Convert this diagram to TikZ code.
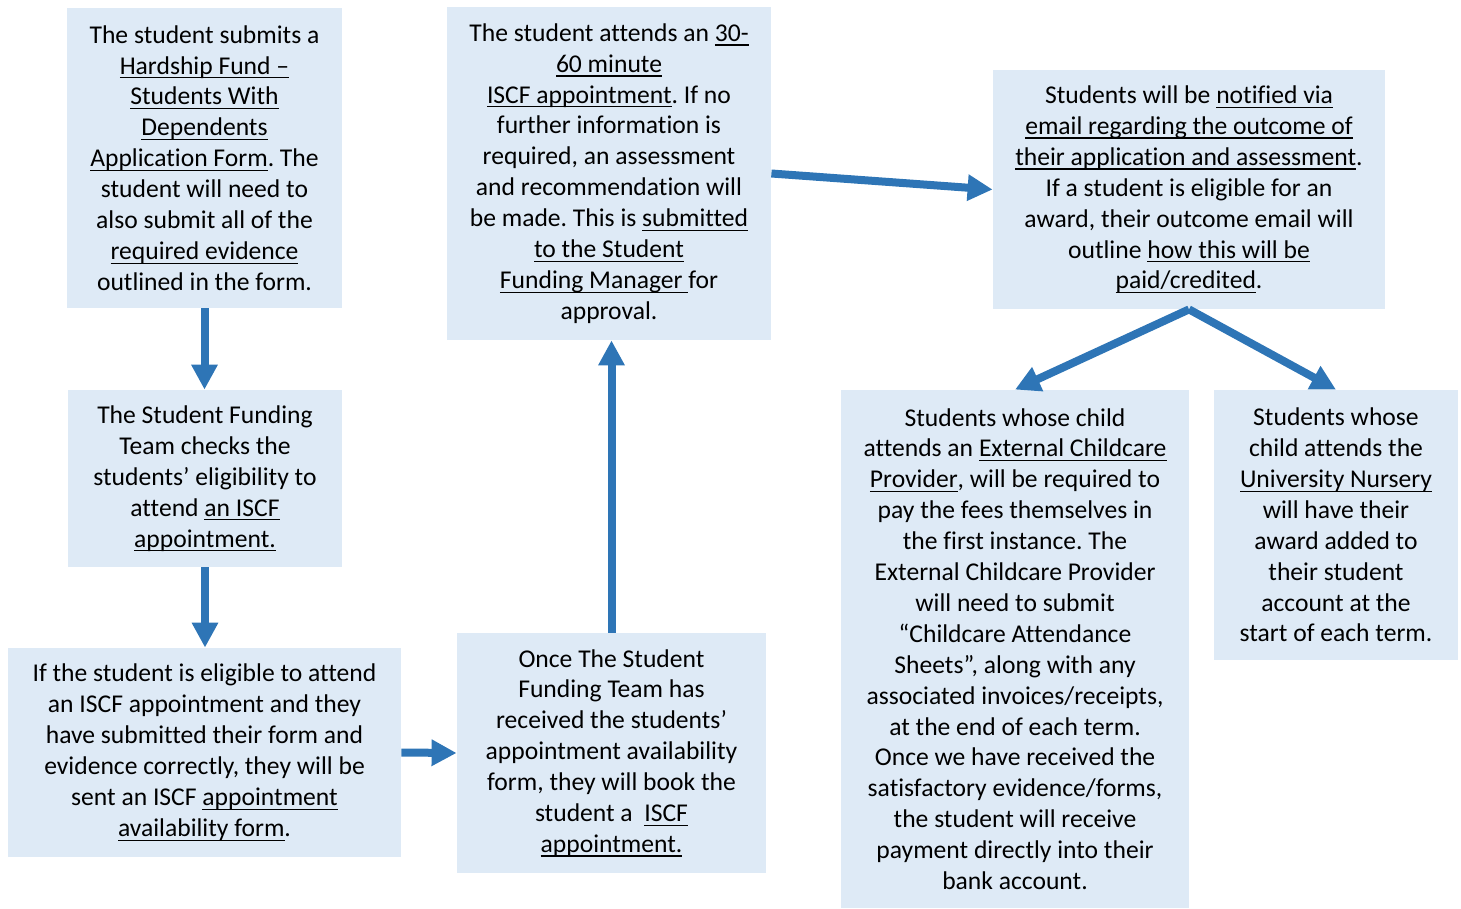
\documentclass[tikz,border=0pt]{standalone}
\usepackage{fontspec}
\setmainfont{Carlito}[Ligatures=NoCommon]
\usetikzlibrary{arrows.meta}
\definecolor{boxblue}{HTML}{DEEAF6}
\definecolor{arrowblue}{HTML}{2E75B6}
\newcommand{\uln}[1]{\setbox0\hbox{#1}\rlap{\rule[-0.17em]{\wd0}{0.05em}}\box0}
\frenchspacing

\begin{document}
\begin{tikzpicture}[x=0.5pt,y=-0.5pt,
  box/.style={fill=boxblue,inner sep=0pt,align=center,font=\fontsize{12.8}{15.45}\selectfont},
  flow/.style={draw=arrowblue,line width=4pt,-{Triangle[width=12.5pt,length=12.5pt]}}]
\useasboundingbox (0,0) rectangle (1461,909);

\node [box,minimum width=137.5pt,minimum height=150pt] (submit) at (204.5,158) {The student submits a\\
\uln{Hardship Fund –}\\
\uln{Students With}\\
\uln{Dependents}\\
\uln{Application Form}. The\\
student will need to\\
also submit all of the\\
\uln{required evidence}\\
outlined in the form.};

\node [box,minimum width=137pt,minimum height=88.5pt] (check) at (205,478.5) {The Student Funding\\
Team checks the\\
students’ eligibility to\\
attend \uln{an ISCF}\\
\uln{appointment.}};

\node [box,minimum width=196.5pt,minimum height=104.5pt] (eligible) at (204.5,752.5) {If the student is eligible to attend\\
an ISCF appointment and they\\
have submitted their form and\\
evidence correctly, they will be\\
sent an ISCF \uln{appointment}\\
\uln{availability form}.};

\node [box,minimum width=154.5pt,minimum height=120pt] (book) at (611.5,753) {Once The Student\\
Funding Team has\\
received the students’\\
appointment availability\\
form, they will book the\\
student a~ \uln{ISCF}\\
\uln{appointment.}};

\node [box,minimum width=162pt,minimum height=166.5pt] (attend) at (609,173.5) {The student attends an \uln{30-}\\
\uln{60 minute}\\
\uln{ISCF appointment}. If no\\
further information is\\
required, an assessment\\
and recommendation will\\
be made. This is \uln{submitted}\\
\uln{to the Student}\\
\uln{Funding Manager }for\\
approval.};

\node [box,minimum width=196pt,minimum height=119.5pt] (notify) at (1189,189.5) {Students will be \uln{notified via}\\
\uln{email regarding the outcome of}\\
\uln{their application and assessment}.\\
If a student is eligible for an\\
award, their outcome email will\\
outline \uln{how this will be}\\
\uln{paid/credited}.};

\node [box,minimum width=174pt,minimum height=259pt] (external) at (1015,649) {Students whose child\\
attends an \uln{External Childcare}\\
\uln{Provider}, will be required to\\
pay the fees themselves in\\
the first instance. The\\
External Childcare Provider\\
will need to submit\\
“Childcare Attendance\\
Sheets”, along with any\\
associated invoices/receipts,\\
at the end of each term.\\
Once we have received the\\
satisfactory evidence/forms,\\
the student will receive\\
payment directly into their\\
bank account.};

\node [box,minimum width=122pt,minimum height=135pt] (nursery) at (1336,525) {Students whose\\
child attends the\\
\uln{University Nursery}\\
will have their\\
award added to\\
their student\\
account at the\\
start of each term.};

\draw [flow] (submit.south) -- (submit.south |- check.north);
\draw [flow] (check.south) -- (check.south |- eligible.north);
\draw [flow] (eligible.east) -- (book.west);
\draw [flow] (book.north) -- (book.north |- attend.south);
\draw [flow] (attend.east) -- (notify.west);
\draw [flow] (notify.south) -- (external.north);
\draw [flow] (notify.south) -- (nursery.north);

\end{tikzpicture}
\end{document}
